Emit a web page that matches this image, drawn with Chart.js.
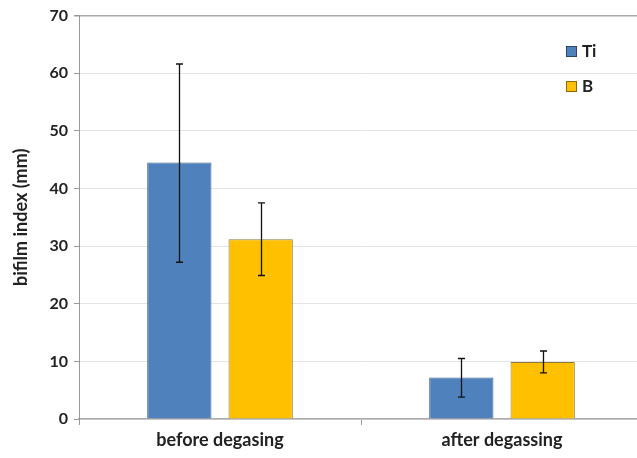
<!DOCTYPE html>
<html><head><meta charset="utf-8">
<script src="https://cdn.jsdelivr.net/npm/chart.js@4"></script>
<style>html,body{margin:0;padding:0;background:#fff;overflow:hidden}#wrap{width:643px;height:458px}</style>
</head><body><div id="wrap"><canvas id="c"></canvas></div>
<script>
const categories = ["before degasing", "after degassing"];
const seriesNames = ["Ti", "B"];
const tiValues = [44.5, 7.2];
const bValues = [31.2, 9.9];
const tiErrLow = [27.2, 3.8];
const tiErrHigh = [61.6, 10.5];
const bErrLow = [24.9, 8.0];
const bErrHigh = [37.5, 11.8];
const yTicks = [0, 10, 20, 30, 40, 50, 60, 70];

const FONT = "Lato, 'Open Sans', sans-serif";

const errorBars = {
  id: 'errorBars',
  afterDatasetsDraw(chart) {
    const ctx = chart.ctx, y = chart.scales.y;
    chart.data.datasets.forEach((ds, i) => {
      const meta = chart.getDatasetMeta(i);
      meta.data.forEach((bar, j) => {
        const x = Math.round(bar.x) + 0.5, yl = y.getPixelForValue(ds.errLow[j]), yh = y.getPixelForValue(ds.errHigh[j]);
        ctx.save();
        ctx.strokeStyle = '#111';
        ctx.lineWidth = 1.3;
        ctx.beginPath();
        ctx.moveTo(x, yl); ctx.lineTo(x, yh);
        ctx.moveTo(x - 3.5, yl); ctx.lineTo(x + 3.5, yl);
        ctx.moveTo(x - 3.5, yh); ctx.lineTo(x + 3.5, yh);
        ctx.stroke();
        ctx.restore();
      });
    });
  }
};

const customLegend = {
  id: 'customLegend',
  afterDraw(chart) {
    const ctx = chart.ctx, y = chart.scales.y;
    const rows = [y.getPixelForValue(63.9), y.getPixelForValue(57.7)];
    chart.data.datasets.forEach((ds, i) => {
      const cy = Math.round(rows[i]);
      ctx.save();
      ctx.fillStyle = ds.backgroundColor;
      ctx.fillRect(566, cy - 5, 11, 11);
      ctx.strokeStyle = 'rgba(0,0,0,0.45)';
      ctx.lineWidth = 1;
      ctx.strokeRect(566.5, cy - 4.5, 10, 10);
      ctx.fillStyle = '#222';
      ctx.font = "bold 17px " + FONT;
      ctx.textBaseline = 'middle';
      ctx.fillText(ds.label, 582, cy + 1);
      ctx.restore();
    });
  }
};

new Chart(document.getElementById('c'), {
  type: 'bar',
  data: {
    labels: categories,
    datasets: [
      { label: seriesNames[0], data: tiValues, errLow: tiErrLow, errHigh: tiErrHigh,
        backgroundColor: '#4F81BD', borderColor: '#3d6590', borderWidth: 1,
        categoryPercentage: 0.577, barPercentage: 0.79 },
      { label: seriesNames[1], data: bValues, errLow: bErrLow, errHigh: bErrHigh,
        backgroundColor: '#FFC000', borderColor: '#8c7a3c', borderWidth: 1,
        categoryPercentage: 0.577, barPercentage: 0.79 }
    ]
  },
  options: {
    responsive: true, maintainAspectRatio: false, animation: false,
    devicePixelRatio: 1,
    layout: { padding: { top: 14, right: 0, left: 0, bottom: 0 } },
    plugins: { legend: { display: false }, tooltip: { enabled: false } },
    scales: {
      x: {
        grid: { display: true, drawOnChartArea: false, offset: true, color: '#999', tickLength: 6 },
        border: { color: '#aaa', width: 1.5 },
        ticks: { color: '#222', font: { family: FONT, size: 18, weight: 'bold' }, padding: 4 },
        afterFit(s) { s.height = 39; }
      },
      y: {
        min: 0, max: 70,
        afterBuildTicks(s) { s.ticks = yTicks.map(v => ({ value: v })); },
        grid: { color: (c) => c.tick && c.tick.value === 70 ? '#aaa' : '#e3e3e3',
                lineWidth: (c) => c.tick && c.tick.value === 70 ? 1.5 : 1,
                tickLength: 5, tickColor: '#999' },
        border: { color: '#999', width: 1 },
        ticks: { color: '#222', font: { family: FONT, size: 16, weight: 'bold' }, padding: 6 },
        title: { display: true, text: 'bifilm index (mm)', color: '#222',
          font: { family: FONT, size: 18, weight: 'bold' }, padding: { top: 10, bottom: 4 } },
        afterFit(s) { s.width = 79; }
      }
    }
  },
  plugins: [errorBars, customLegend]
});
</script></body></html>
